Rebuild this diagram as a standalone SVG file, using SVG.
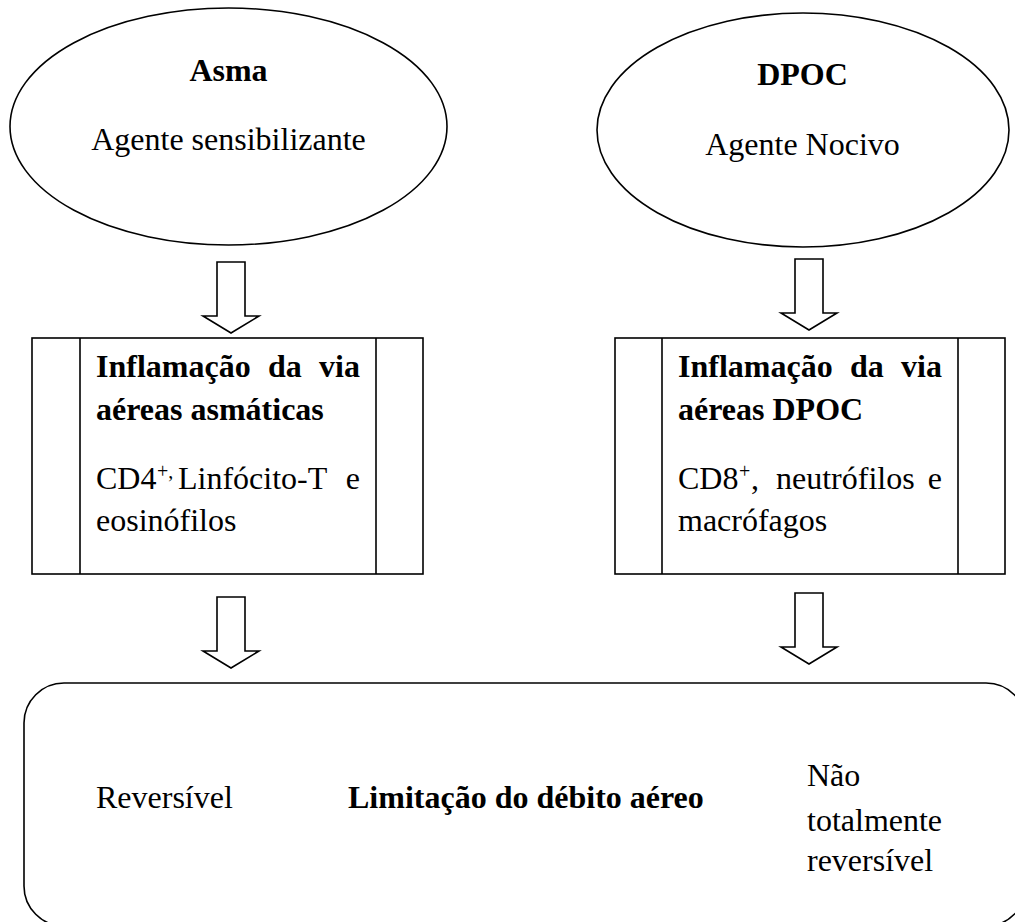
<svg xmlns="http://www.w3.org/2000/svg" width="1015" height="922" viewBox="0 0 1015 922">
<style>
.s{fill:#fff;stroke:#000;stroke-width:1.6}
text{font-family:"Liberation Serif","Times New Roman",serif;font-size:32px;fill:#000}
.b{font-weight:bold}
.sup{font-size:20px}
</style>
<defs>
<path id="arr" d="M-14,0 H14 V54 H28 L0,71 L-28,54 H-14 Z"/>
</defs>
<rect width="1015" height="922" fill="#fff"/>
<g id="asma">
<ellipse class="s" cx="228.5" cy="126.5" rx="218.5" ry="118.5"/>
<text class="b" x="228.5" y="81" text-anchor="middle">Asma</text>
<text x="228.5" y="150" text-anchor="middle">Agente sensibilizante</text>
</g>
<g id="dpoc">
<ellipse class="s" cx="803" cy="130" rx="206" ry="117"/>
<text class="b" x="802.5" y="85" text-anchor="middle">DPOC</text>
<text x="802.5" y="155" text-anchor="middle">Agente Nocivo</text>
</g>
<g id="connectors">
<use href="#arr" class="s" x="231" y="262"/>
<use href="#arr" class="s" x="809" y="259"/>
<use href="#arr" class="s" x="231" y="597"/>
<use href="#arr" class="s" x="809" y="593"/>
</g>
<g id="infl-asma">
<rect class="s" x="32" y="338" width="391" height="236"/>
<line class="s" x1="80" y1="338" x2="80" y2="574"/>
<line class="s" x1="376" y1="338" x2="376" y2="574"/>
<text class="b" x="96" y="377">Inflamação</text>
<text class="b" x="268" y="377">da</text>
<text class="b" x="360" y="377" text-anchor="end">via</text>
<text class="b" x="96" y="420">aéreas asmáticas</text>
<text x="96" y="489">CD4</text>
<text class="sup" x="157" y="478">+,</text>
<text x="178" y="489">Linfócito-T</text>
<text x="360" y="489" text-anchor="end">e</text>
<text x="96" y="531">eosinófilos</text>
</g>
<g id="infl-dpoc">
<rect class="s" x="615" y="338" width="390" height="236"/>
<line class="s" x1="662" y1="338" x2="662" y2="574"/>
<line class="s" x1="958" y1="338" x2="958" y2="574"/>
<text class="b" x="678" y="377">Inflamação</text>
<text class="b" x="850" y="377">da</text>
<text class="b" x="942" y="377" text-anchor="end">via</text>
<text class="b" x="678" y="420">aéreas DPOC</text>
<text x="678" y="489">CD8</text>
<text class="sup" x="739" y="478">+</text>
<text x="751" y="489">,</text>
<text x="776" y="489">neutrófilos</text>
<text x="942" y="489" text-anchor="end">e</text>
<text x="678" y="531">macrófagos</text>
</g>
<g id="limitacao">
<rect class="s" x="24" y="683" width="1002" height="243" rx="40" ry="40"/>
<text x="96" y="808">Reversível</text>
<text class="b" x="348" y="808">Limitação do débito aéreo</text>
<text x="807" y="786">Não</text>
<text x="807" y="831">totalmente</text>
<text x="807" y="871">reversível</text>
</g>
</svg>
